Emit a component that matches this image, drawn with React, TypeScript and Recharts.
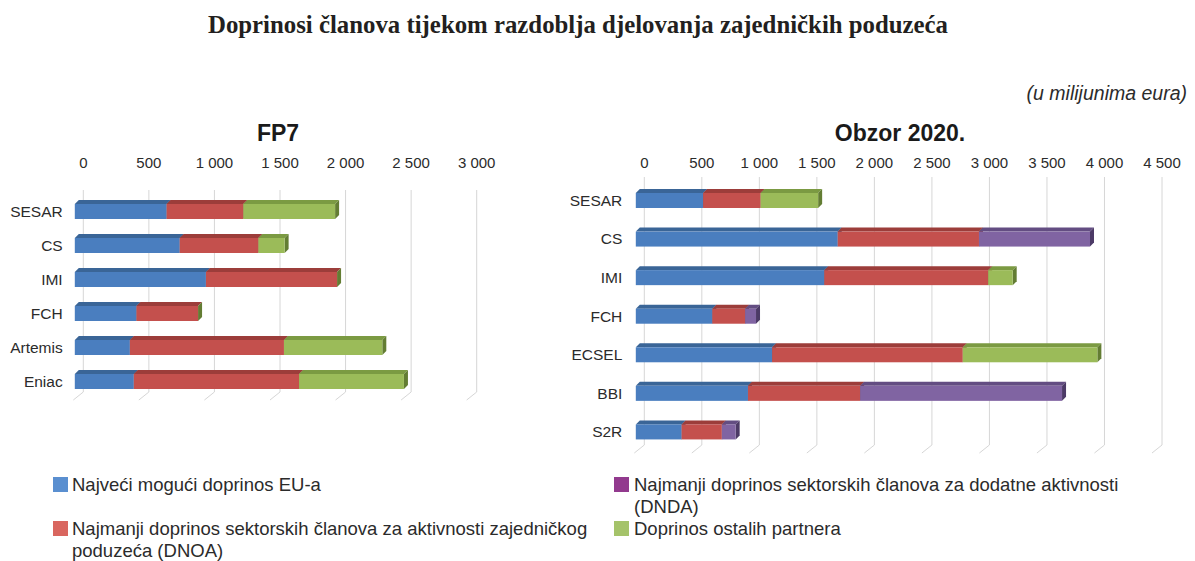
import React from 'react';
import { BarChart, Bar, XAxis, YAxis, CartesianGrid } from 'recharts';

// ---------- DATA ----------
const fp7Categories = ['SESAR', 'CS', 'IMI', 'FCH', 'Artemis', 'Eniac'];
const fp7EU = [700, 800, 1000, 470, 420, 450];
const fp7DNOA = [585, 600, 1000, 470, 1175, 1260];
const fp7Other = [700, 200, 0, 0, 750, 800];
const fp7Ticks = [0, 500, 1000, 1500, 2000, 2500, 3000];

const h2020Categories = ['SESAR', 'CS', 'IMI', 'FCH', 'ECSEL', 'BBI', 'S2R'];
const h2020EU = [585, 1755, 1638, 665, 1185, 975, 398];
const h2020DNOA = [500, 1228, 1425, 285, 1657, 975, 350];
const h2020DNDA: (number | null)[] = [null, 965, null, 95, null, 1755, 120];
const h2020Other: (number | null)[] = [500, null, 213, null, 1170, null, null];
const h2020Ticks = [0, 500, 1000, 1500, 2000, 2500, 3000, 3500, 4000, 4500];

const legendItems = [
  { key: 'eu', lines: ['Najveći mogući doprinos EU-a'] },
  { key: 'dnoa', lines: ['Najmanji doprinos sektorskih članova za aktivnosti zajedničkog', 'poduzeća (DNOA)'] },
  { key: 'dnda', lines: ['Najmanji doprinos sektorskih članova za dodatne aktivnosti', '(DNDA)'] },
  { key: 'other', lines: ['Doprinos ostalih partnera'] },
];

const fp7Data = fp7Categories.map((name, i) => ({
  name,
  eu: fp7EU[i],
  dnoa: fp7DNOA[i],
  other: fp7Other[i],
}));

const h2020Data = h2020Categories.map((name, i) => ({
  name,
  eu: h2020EU[i],
  dnoa: h2020DNOA[i],
  dnda: h2020DNDA[i],
  other: h2020Other[i],
}));

// ---------- STYLE ----------
const FONT = '"Liberation Sans", Arial, Helvetica, sans-serif';
const TEXT = '#2b2b2b';

const COLORS: Record<string, { front: string; top: string; side: string; legend: string }> = {
  eu: { front: '#4a7ebf', top: '#3a6597', side: '#2e527d', legend: '#5a8fd0' },
  dnoa: { front: '#c4504d', top: '#9c3d3a', side: '#83302e', legend: '#d9665f' },
  dnda: { front: '#8064a2', top: '#634d82', side: '#4c3a66', legend: '#923a8e' },
  other: { front: '#9bbb59', top: '#7b9a42', side: '#637d33', legend: '#a5c36a' },
};

const DEPTH = 4;
const SHIFT_X = 8.5;
const SHIFT_Y = 4;
const TICK_Y = 162.5;

const fmt = (v: number) =>
  v >= 1000 ? `${Math.floor(v / 1000)} ${String(v % 1000).padStart(3, '0')}` : String(v);

function make3D(key: string, nextKey?: string) {
  return (props: any) => {
    const { x, y, width, height, payload } = props;
    if (!(width > 0) || payload == null || payload[key] == null) return <g />;
    const c = COLORS[key];
    let sideColor = c.side;
    if (nextKey && payload[nextKey] === 0) sideColor = COLORS[nextKey].side;
    const fx = x - SHIFT_X;
    const fy = y + SHIFT_Y;
    const w = width;
    const h = height;
    const d = DEPTH;
    return (
      <g>
        <polygon
          points={`${fx},${fy} ${fx + d},${fy - d} ${fx + w + d},${fy - d} ${fx + w},${fy}`}
          fill={c.top}
        />
        <polygon
          points={`${fx + w},${fy} ${fx + w + d},${fy - d} ${fx + w + d},${fy + h - d} ${fx + w},${fy + h}`}
          fill={sideColor}
        />
        <rect x={fx} y={fy} width={w} height={h} fill={c.front} />
      </g>
    );
  };
}

const gridLine = (props: any) => {
  const { x1, y1, y2 } = props;
  return (
    <path
      key={props.key ?? `${x1}`}
      d={`M${x1},${y1} L${x1},${y2 - 2} L${x1 - 10},${y2 + 6}`}
      stroke="#d6d6d6"
      strokeWidth={1}
      fill="none"
    />
  );
};

const XTick = (props: any) => (
  <text
    x={props.x}
    y={TICK_Y}
    textAnchor="middle"
    dominantBaseline="central"
    fontSize={15}
    fontFamily={FONT}
    fill={TEXT}
  >
    {fmt(props.payload.value)}
  </text>
);

const makeYTick = (labelX: number) => (props: any) => (
  <text
    x={labelX}
    y={props.y + SHIFT_Y}
    textAnchor="end"
    dominantBaseline="central"
    fontSize={15.5}
    fontFamily={FONT}
    fill={TEXT}
  >
    {props.payload.value}
  </text>
);

export default function App() {
  return (
    <div
      style={{
        position: 'absolute',
        left: 0,
        top: 0,
        width: 1195,
        height: 561,
        background: '#ffffff',
        overflow: 'hidden',
        fontFamily: FONT,
      }}
    >
      {/* Main title */}
      <svg width={1195} height={50} style={{ position: 'absolute', left: 0, top: 0 }}>
        <text
          x={208}
          y={33}
          fontFamily='"Liberation Serif", "DejaVu Serif", serif'
          fontWeight="bold"
          fontSize={26}
          fill="#231f20"
          textLength={740}
          lengthAdjust="spacingAndGlyphs"
        >
          Doprinosi članova tijekom razdoblja djelovanja zajedničkih poduzeća
        </text>
      </svg>

      {/* Unit note */}
      <div
        style={{
          position: 'absolute',
          right: 8,
          top: 81,
          fontSize: 19.5,
          lineHeight: '24px',
          fontStyle: 'italic',
          color: TEXT,
          whiteSpace: 'nowrap',
        }}
      >
        (u milijunima eura)
      </div>

      {/* Sub-titles */}
      <div
        style={{
          position: 'absolute',
          left: 178,
          width: 200,
          top: 119,
          textAlign: 'center',
          fontSize: 23,
          fontWeight: 'bold',
          lineHeight: '28px',
          color: '#1a1a1a',
        }}
      >
        FP7
      </div>
      <div
        style={{
          position: 'absolute',
          left: 800,
          width: 200,
          top: 119,
          textAlign: 'center',
          fontSize: 23,
          fontWeight: 'bold',
          lineHeight: '28px',
          color: '#1a1a1a',
        }}
      >
        Obzor 2020.
      </div>

      {/* FP7 chart */}
      <div style={{ position: 'absolute', left: 0, top: 0 }}>
        <BarChart
          width={520}
          height={420}
          data={fp7Data}
          layout="vertical"
          margin={{ top: 0, right: 43.3, bottom: 26, left: 0 }}
          barSize={15}
        >
          <CartesianGrid horizontal={false} vertical={gridLine} />
          <XAxis
            type="number"
            orientation="top"
            domain={[0, 3000]}
            ticks={fp7Ticks}
            interval={0}
            height={190}
            axisLine={false}
            tickLine={false}
            tick={<XTick />}
          />
          <YAxis
            type="category"
            dataKey="name"
            width={83.3}
            axisLine={false}
            tickLine={false}
            interval={0}
            tick={makeYTick(62.7)}
          />
          <Bar dataKey="eu" stackId="a" isAnimationActive={false} shape={make3D('eu')} />
          <Bar dataKey="dnoa" stackId="a" isAnimationActive={false} shape={make3D('dnoa', 'other')} />
          <Bar dataKey="other" stackId="a" isAnimationActive={false} shape={make3D('other')} />
        </BarChart>
      </div>

      {/* Horizon 2020 chart */}
      <div style={{ position: 'absolute', left: 520, top: 0 }}>
        <BarChart
          width={675}
          height={470}
          data={h2020Data}
          layout="vertical"
          margin={{ top: 0, right: 33, bottom: 23, left: 0 }}
          barSize={15}
        >
          <CartesianGrid horizontal={false} vertical={gridLine} />
          <XAxis
            type="number"
            orientation="top"
            domain={[0, 4500]}
            ticks={h2020Ticks}
            interval={0}
            height={177}
            axisLine={false}
            tickLine={false}
            tick={<XTick />}
          />
          <YAxis
            type="category"
            dataKey="name"
            width={124.3}
            axisLine={false}
            tickLine={false}
            interval={0}
            tick={makeYTick(102.3)}
          />
          <Bar dataKey="eu" stackId="b" isAnimationActive={false} shape={make3D('eu')} />
          <Bar dataKey="dnoa" stackId="b" isAnimationActive={false} shape={make3D('dnoa')} />
          <Bar dataKey="dnda" stackId="b" isAnimationActive={false} shape={make3D('dnda')} />
          <Bar dataKey="other" stackId="b" isAnimationActive={false} shape={make3D('other')} />
        </BarChart>
      </div>

      {/* Legend */}
      {legendItems.map((item, i) => {
        const col = i < 2 ? 0 : 1;
        const row = i % 2;
        const sqLeft = col === 0 ? 53 : 614;
        const textLeft = col === 0 ? 72 : 634;
        const top = row === 0 ? 477 : 521;
        return (
          <React.Fragment key={item.key}>
            <div
              style={{
                position: 'absolute',
                left: sqLeft,
                top,
                width: 15,
                height: 15,
                background: COLORS[item.key].legend,
              }}
            />
            <div
              style={{
                position: 'absolute',
                left: textLeft,
                top: top - 3,
                fontSize: 18.5,
                lineHeight: '22px',
                color: TEXT,
                whiteSpace: 'nowrap',
              }}
            >
              {item.lines.map((l, j) => (
                <div key={j}>{l}</div>
              ))}
            </div>
          </React.Fragment>
        );
      })}
    </div>
  );
}
